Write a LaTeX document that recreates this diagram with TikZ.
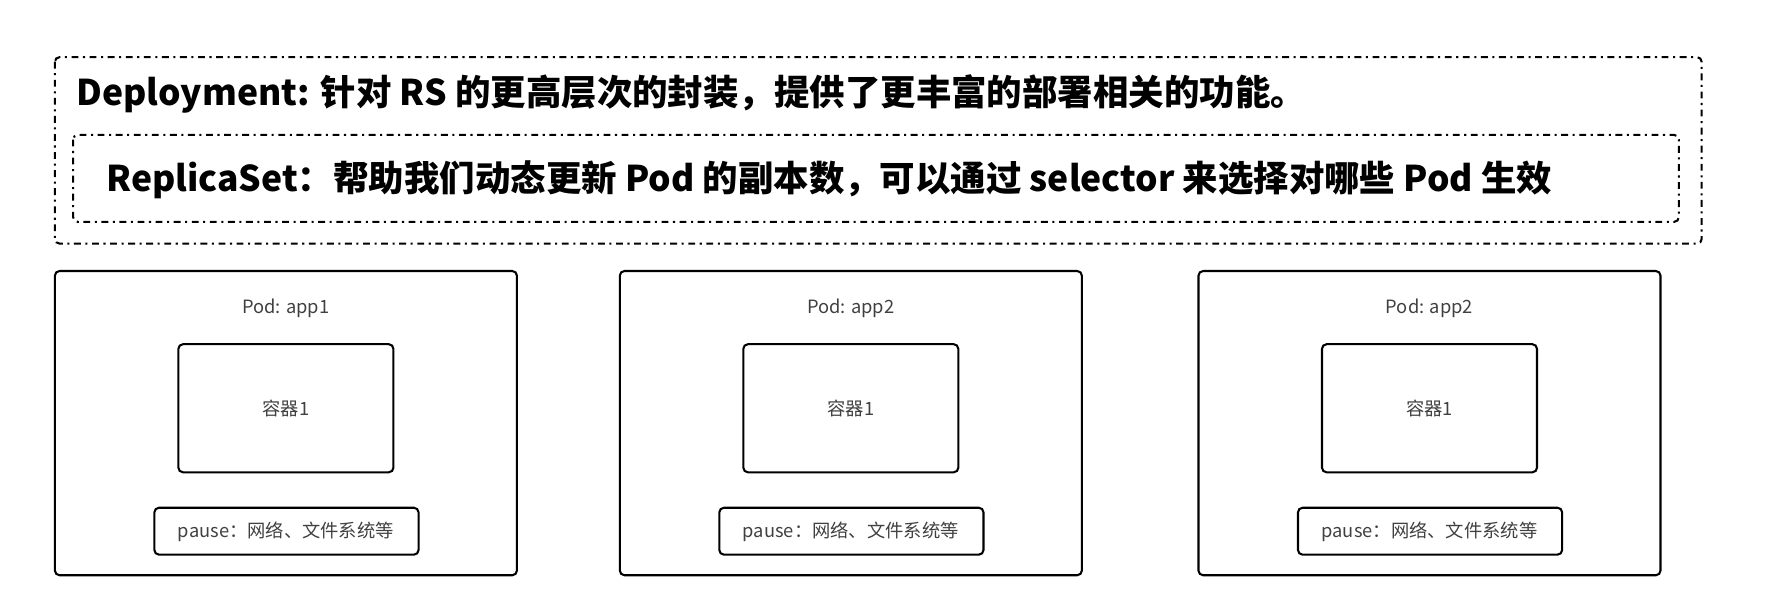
\documentclass[tikz,border=0pt]{standalone}
\usepackage{fontspec}
\setmainfont{Noto Sans CJK SC}
\begin{document}
\begin{tikzpicture}[x=0.5pt,y=-0.5pt,
    groupbox/.style={draw, line width=0.9pt, dash dot, rounded corners=2pt},
    podbox/.style={draw, line width=0.9pt, rounded corners=2pt},
    small/.style={font=\fontsize{8}{10}\selectfont, text=black!75}]
    \useasboundingbox (0,0) rectangle (1560,534);
    % Deployment and ReplicaSet
    \draw[groupbox] (48,50) rectangle (1488,213);
    \draw[groupbox] (64,118) rectangle (1468,194);
    \node[anchor=west, font=\fontsize{15.5}{18}\bfseries] (deploy) at (60,82)
        {Deployment: 针对 RS 的更高层次的封装，提供了更丰富的部署相关的功能。};
    \node[anchor=west, font=\fontsize{15.5}{18}\bfseries] (rs) at (86,157)
        {ReplicaSet：帮助我们动态更新 Pod 的副本数，可以通过 selector 来选择对哪些 Pod 生效};
    % Pods
    \foreach \x/\name in {48/app1, 542/app2, 1048/app2} {
        \draw[podbox] (\x,237) rectangle ++(404,266);
        \node[small] at (\x+202,270) {Pod: \name};
        \draw[podbox] (\x+108,301) rectangle ++(188,112);
        \node[small] at (\x+202,357) {容器1};
        \draw[podbox] (\x+87,444) rectangle ++(231,41);
        \node[small] at (\x+202,465) {pause：网络、文件系统等};
    }
\end{tikzpicture}
\end{document}
